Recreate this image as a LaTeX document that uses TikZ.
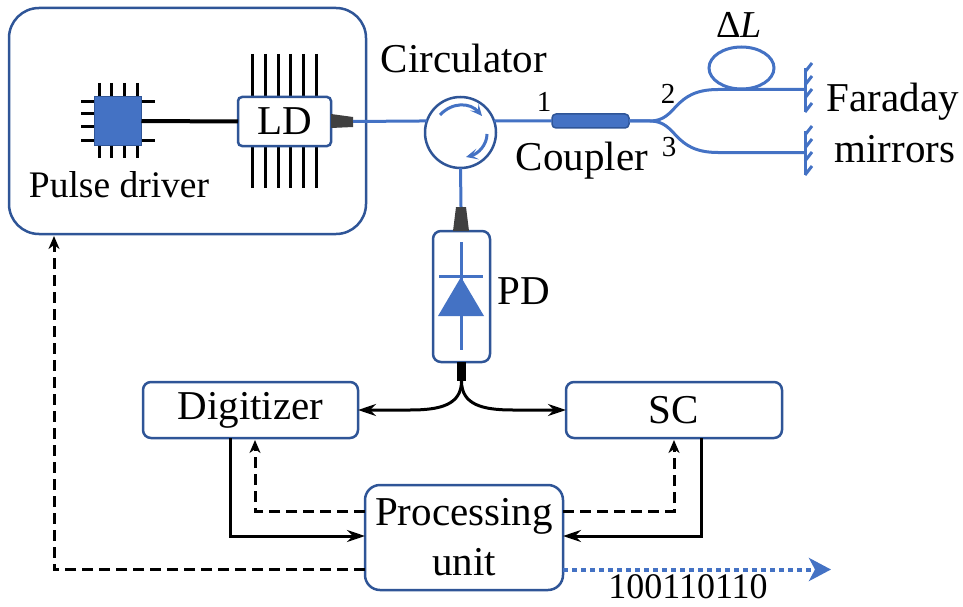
\documentclass[tikz,border=0pt]{standalone}
\usepackage{fontspec}
\setmainfont{Liberation Serif}
\usetikzlibrary{arrows.meta,shapes.geometric}
\definecolor{boxblue}{HTML}{2F5597}
\definecolor{fibreblue}{HTML}{4472C4}
\definecolor{taperdark}{HTML}{404040}
\tikzset{
    txt/.style={inner sep=0pt, font=\fontsize{41}{50}\selectfont},
    small/.style={inner sep=0pt, font=\fontsize{29}{32}\selectfont},
    unit/.style={draw=boxblue, line width=2.5pt, rounded corners=8pt, fill=white, inner sep=0pt, outer sep=0pt, align=center, font=\fontsize{41}{50}\selectfont},
    fibre/.style={draw=fibreblue, line width=3pt},
    pin/.style={draw=black, line width=3pt},
    taper/.style={fill=taperdark},
    sig/.style={draw=black, line width=3pt, -{Stealth[length=18pt,width=12pt,inset=6pt]}},
    ctl/.style={draw=black, line width=3pt, dash pattern=on 11pt off 6pt, -{Stealth[length=13pt,width=11pt,inset=4pt]}},
    swirl/.style={fibre, -{Stealth[length=12pt,width=11pt,inset=6pt]}}
}
\begin{document}
\begin{tikzpicture}[x=1pt,y=-1pt]
    \useasboundingbox (0,0) rectangle (963,607);

    % transmitter
    \node[unit, rounded corners=30pt, minimum width=357pt, minimum height=226pt] (tx) at (187.5,121) {};
    \foreach \px in {252,265,278,290,303,316}
        \draw[pin] (\px,54) -- (\px,188);
    \node[unit, rounded corners=4pt, minimum width=93pt, minimum height=49pt] (ld) at (284.5,121.5) {LD};
    \foreach \px in {99,111,124,137}
        \draw[pin] (\px,83) -- (\px,158);
    \foreach \py in {102,114,127,140}
        \draw[pin] (81,\py) -- (105,\py);
    \foreach \py in {102,140}
        \draw[pin] (130,\py) -- (155,\py);
    \node[draw=boxblue, line width=1.5pt, fill=fibreblue, minimum width=47pt, minimum height=49pt, inner sep=0pt, outer sep=0pt] (chip) at (118,121) {};
    \draw[line width=4pt] (chip.east) -- (ld.west);
    \node[txt, font=\fontsize{37.5}{42}\selectfont, anchor=base] (driver) at (119,197) {Pulse driver};

    \fill[taper] (331,114) -- (353,117) -- (353,127) -- (331,128) -- cycle;
    \coordinate (ldtip) at (353,121.5);

    % circulator
    \node[draw=boxblue, line width=2.5pt, fill=white, circle, minimum size=71pt, inner sep=0pt, outer sep=0pt] (circ) at (460.5,132.5) {};
    \node[txt, anchor=base] (circlabel) at (464,73) {Circulator};
    \draw[swirl] (440,115) .. controls (452,102) and (470,102) .. (482,116);
    \draw[swirl] (487,134) .. controls (487,145) and (478,154) .. (466,157);
    \draw[fibre] (ldtip) -- (circ.161);

    % coupler and arms
    \node[draw=boxblue, line width=1.5pt, fill=fibreblue, rounded corners=4pt, minimum width=77pt, minimum height=14pt, inner sep=0pt, outer sep=0pt] (coupler) at (590.5,121) {};
    \draw[fibre] (circ.19) -- (coupler.west);
    \node[txt, anchor=base] (couplabel) at (582,170) {Coupler};
    \node[small, anchor=base] (port1) at (544,112) {1};
    \node[small, anchor=base] (port2) at (668,103) {2};
    \node[small, anchor=base] (port3) at (669,156) {3};

    \coordinate (mirrora) at (805,89.5);
    \coordinate (mirrorb) at (805,152.5);
    \draw[fibre] (coupler.east) -- (650,121) .. controls (678,121) and (672,89.5) .. (718,89.5) -- (mirrora);
    \draw[fibre] (coupler.east) -- (650,121) .. controls (678,121) and (672,152.5) .. (718,152.5) -- (mirrorb);
    \node[draw=fibreblue, line width=3pt, ellipse, minimum width=65pt, minimum height=42pt, inner sep=0pt] (loop) at (741.5,68) {};
    \node[txt, font=\fontsize{38}{44}\selectfont, anchor=base] (dl) at (739,38) {Δ\textit{L}};

    \foreach \dy in {0,63} {
        \draw[fibre] (805,68+\dy) -- (805,112+\dy);
        \foreach \ty in {72,85,98,112}
            \draw[fibre] (805,\ty+\dy) -- (812,\ty-9+\dy);
    }
    \node[txt, anchor=base] (faraday) at (893,112) {Faraday};
    \node[txt, anchor=base] (mirrors) at (895,162) {mirrors};

    % photodiode
    \node[unit, minimum width=57pt, minimum height=131pt] (pd) at (461.5,296.5) {};
    \fill[taper] (456,207) -- (466,207) -- (469,231) -- (453,231) -- cycle;
    \coordinate (pdtip) at (461,207);
    \draw[fibre] (circ.south) -- (pdtip);
    \draw[fibre] (461,242) -- (461,350);
    \draw[fibre] (439,276) -- (483,276);
    \fill[fibreblue] (461,277) -- (484,316) -- (438,316) -- cycle;
    \node[txt, anchor=base] (pdlabel) at (524,304) {PD};
    \fill (457,362) rectangle (466,381);
    \coordinate (pdout) at (461.5,381);

    % boxes
    \node[unit, minimum width=215pt, minimum height=56pt] (digi) at (250.5,410) {Digitizer};
    \node[unit, minimum width=216pt, minimum height=56pt] (sc) at (674,410) {SC};
    \node[unit, rounded corners=15pt, minimum width=198pt, minimum height=105pt] (proc) at (464,537.5) {Processing\\unit};

    \draw[sig] (pdout) .. controls (461.5,405) and (440,410) .. (410,410) -- (digi.east);
    \draw[sig] (pdout) .. controls (461.5,405) and (483,410) .. (513,410) -- (sc.west);

    \draw[sig] ([xshift=-20.5pt]digi.south) |- ([yshift=1.5pt]proc.west);
    \draw[sig] ([xshift=27pt]sc.south) |- ([yshift=1.5pt]proc.east);
    \draw[ctl] ([yshift=26.5pt]proc.west) -| ([xshift=4.5pt,yshift=-2pt]digi.south);
    \draw[ctl] ([yshift=26.5pt]proc.east) -| ([yshift=-2pt]sc.south);
    \draw[ctl] ([yshift=-32pt]proc.west) -| ([xshift=-133.5pt,yshift=-2pt]tx.south);

    \coordinate (dataend) at (831,569.5);
    \draw[fibreblue, line width=4pt, dash pattern=on 5pt off 4pt, -{Stealth[length=22pt,width=23pt,inset=6pt]}] ([yshift=-32pt]proc.east) -- (dataend);
    \node[txt, font=\fontsize{36}{40}\selectfont, anchor=base] (bits) at (688,598) {100110110};
\end{tikzpicture}
\end{document}
